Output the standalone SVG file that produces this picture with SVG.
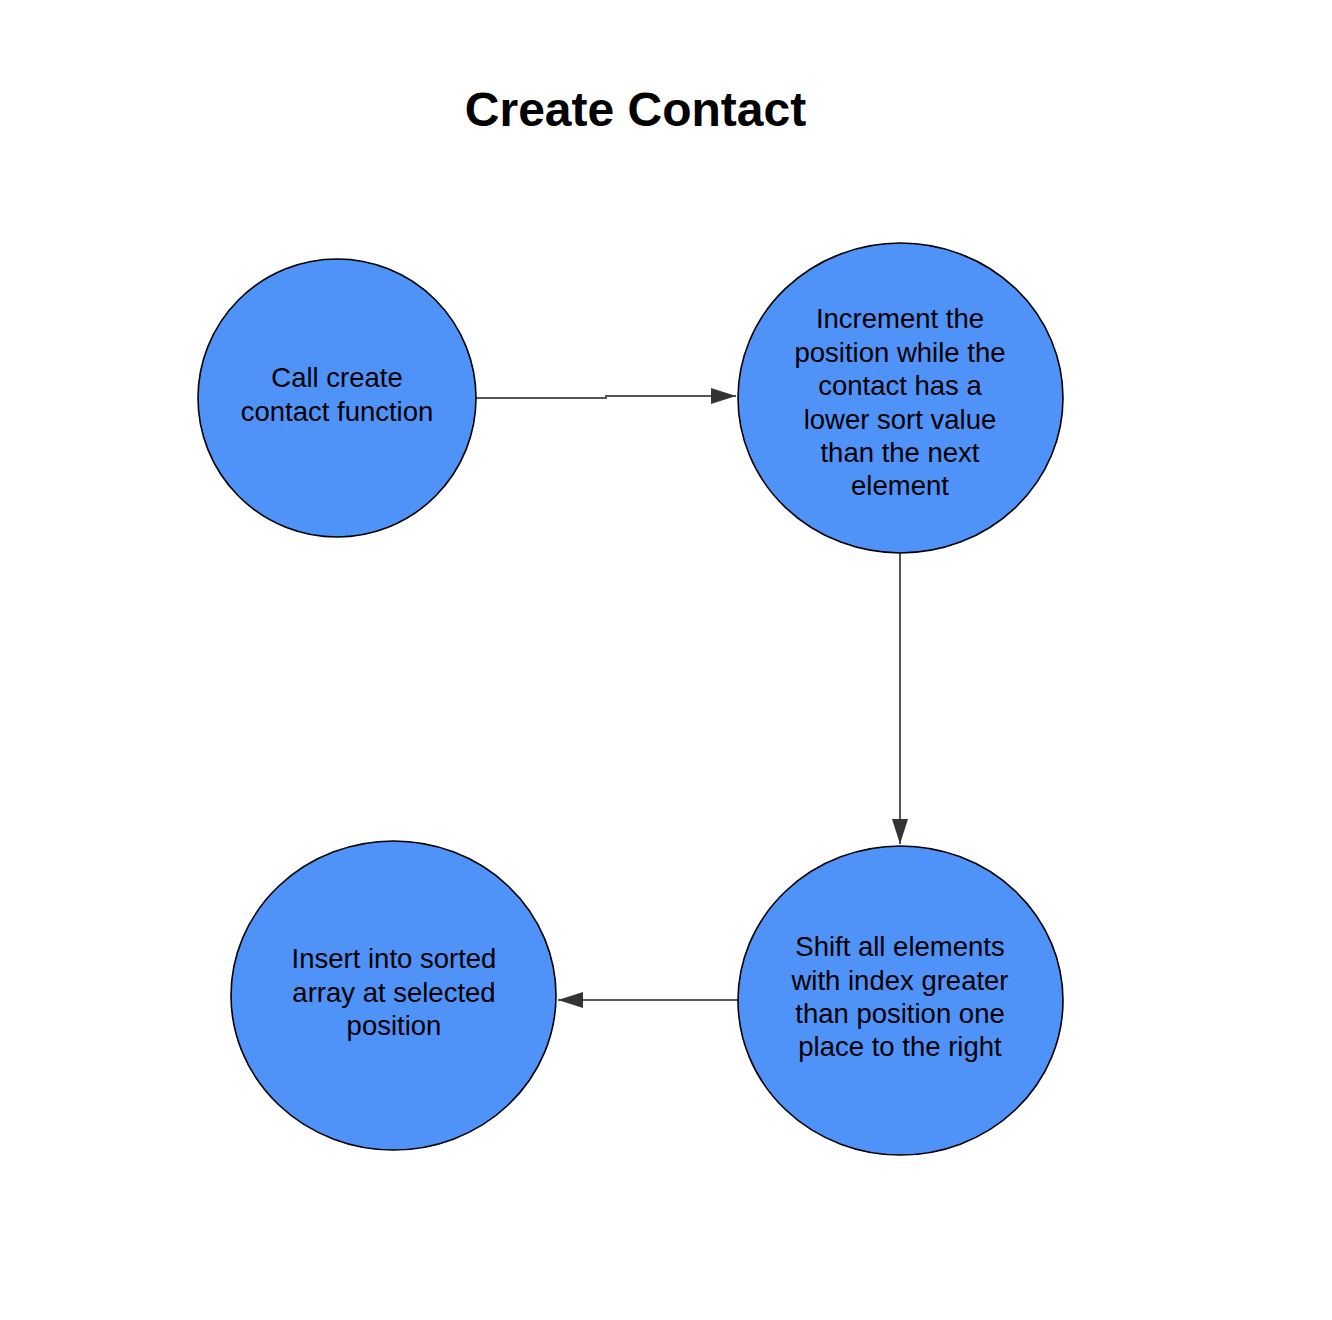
<svg xmlns="http://www.w3.org/2000/svg" width="1332" height="1320" viewBox="0 0 1332 1320">
<style>
.node{fill:#4f92f8;stroke:#000;stroke-width:1.6}
.lbl{font-family:"Liberation Sans",Arial,sans-serif;font-size:27.5px;fill:#000;text-anchor:middle}
.title{font-family:"Liberation Sans",Arial,sans-serif;font-size:48px;font-weight:bold;fill:#000;text-anchor:middle}
.edge{fill:none;stroke:#555;stroke-width:2}
</style>
<defs>
<marker id="arr" markerWidth="26" markerHeight="18" refX="25" refY="8" orient="auto" markerUnits="userSpaceOnUse">
<path d="M0,0 L25,8 L0,16 Z" fill="#333"/>
</marker>
</defs>
<rect width="1332" height="1320" fill="#fff"/>
<text class="title" x="635.5" y="126">Create Contact</text>
<g id="connectors">
<path class="edge" d="M476,398 H606 V396 H736" marker-end="url(#arr)"/>
<path class="edge" d="M900,553 V844" marker-end="url(#arr)"/>
<path class="edge" d="M738,1000 H558" marker-end="url(#arr)"/>
</g>
<g id="node1">
<ellipse class="node" cx="337" cy="398" rx="139" ry="139"/>
<text class="lbl" x="337" y="387">Call create</text>
<text class="lbl" x="337" y="420.5">contact function</text>
</g>
<g id="node2">
<ellipse class="node" cx="900.5" cy="398" rx="162.5" ry="155"/>
<text class="lbl" x="900" y="328">Increment the</text>
<text class="lbl" x="900" y="361.5">position while the</text>
<text class="lbl" x="900" y="395">contact has a</text>
<text class="lbl" x="900" y="428.5">lower sort value</text>
<text class="lbl" x="900" y="462">than the next</text>
<text class="lbl" x="900" y="495">element</text>
</g>
<g id="node3">
<ellipse class="node" cx="900.5" cy="1000.5" rx="162.5" ry="154.5"/>
<text class="lbl" x="900" y="956">Shift all elements</text>
<text class="lbl" x="900" y="989.5">with index greater</text>
<text class="lbl" x="900" y="1023">than position one</text>
<text class="lbl" x="900" y="1056">place to the right</text>
</g>
<g id="node4">
<ellipse class="node" cx="393.5" cy="995.5" rx="162.5" ry="154.5"/>
<text class="lbl" x="394" y="968">Insert into sorted</text>
<text class="lbl" x="394" y="1001.5">array at selected</text>
<text class="lbl" x="394" y="1035">position</text>
</g>
</svg>
